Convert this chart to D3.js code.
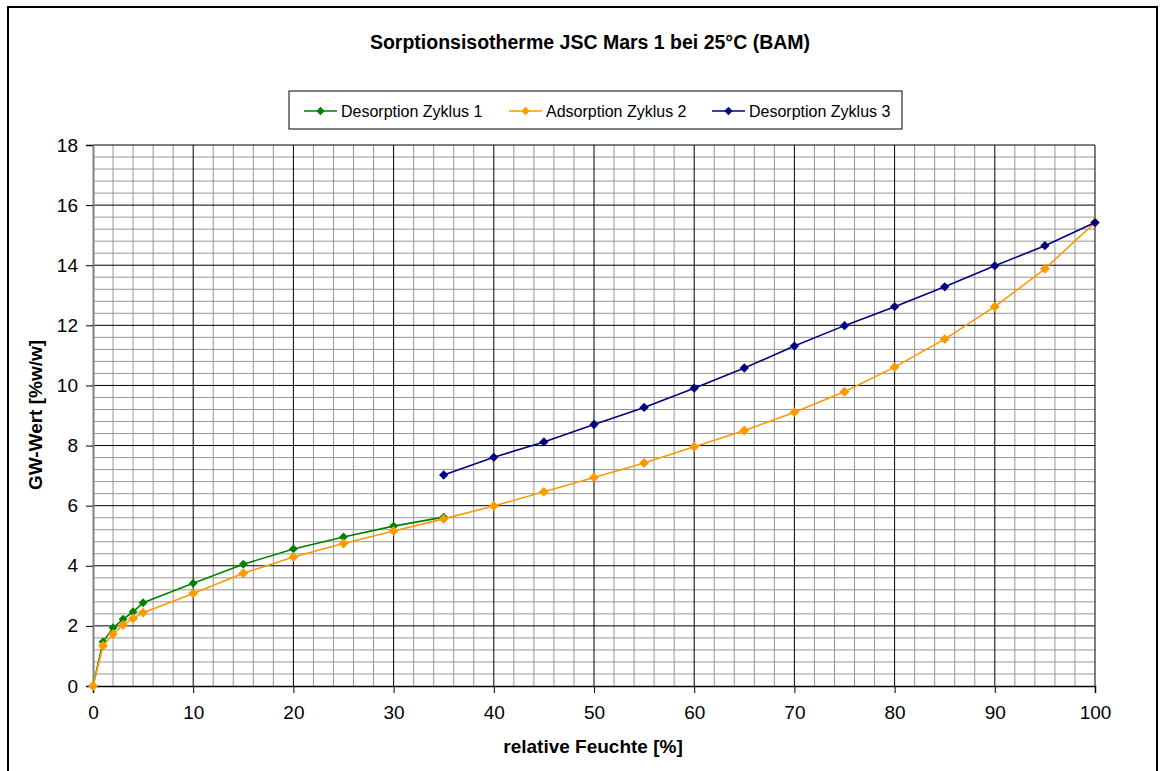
<!DOCTYPE html>
<html>
<head>
    <meta charset="utf-8">
    <title>Sorptionsisotherme JSC Mars 1</title>
    <script src="https://cdn.jsdelivr.net/npm/d3@7"></script>
    <style>
        body { margin: 0; background: #fff; }
        text { font-family: "Liberation Sans", Arial, sans-serif; }
    </style>
</head>
<body>
<div id="chart"></div>
<script>
    // data
    const rhDes1 = [0, 1, 2, 3, 4, 5, 10, 15, 20, 25, 30, 35];
    const gwDes1 = [0, 1.47, 1.94, 2.22, 2.47, 2.77, 3.42, 4.05, 4.56, 4.96, 5.32, 5.62];

    const rhAds2 = [0, 1, 2, 3, 4, 5, 10, 15, 20, 25, 30, 35, 40, 45, 50, 55, 60, 65, 70, 75, 80, 85, 90, 95, 100];
    const gwAds2 = [0, 1.34, 1.73, 2.03, 2.25, 2.44, 3.08, 3.75, 4.29, 4.74, 5.16, 5.56, 5.99, 6.46, 6.94, 7.42,
                    7.96, 8.50, 9.11, 9.79, 10.61, 11.54, 12.62, 13.88, 15.42];

    const rhDes3 = [35, 40, 45, 50, 55, 60, 65, 70, 75, 80, 85, 90, 95, 100];
    const gwDes3 = [7.02, 7.61, 8.12, 8.70, 9.27, 9.91, 10.58, 11.31, 11.99, 12.62, 13.28, 13.98, 14.65, 15.42];

    const seriesNames = ["Desorption Zyklus 1", "Adsorption Zyklus 2", "Desorption Zyklus 3"];
    const seriesColors = ["#008000", "#ff9900", "#000080"];
    const xTicks = d3.range(0, 101, 10);
    const yTicks = d3.range(0, 19, 2);

    const width = 1163, height = 771;
    const plot = {left: 93, right: 1095, top: 145, bottom: 686};

    const svg = d3.select("#chart").append("svg")
        .attr("width", width)
        .attr("height", height);

    // outer chart frame
    svg.append("rect")
        .attr("x", 8).attr("y", 7)
        .attr("width", 1149).attr("height", 800)
        .attr("fill", "none")
        .attr("stroke", "#000")
        .attr("stroke-width", 2);

    const x = d3.scaleLinear().domain([0, 100]).range([plot.left, plot.right]);
    const y = d3.scaleLinear().domain([0, 18]).range([plot.bottom, plot.top]);

    const grid = svg.append("g");

    // minor grid
    grid.selectAll(".vmin")
        .data(d3.range(0, 101, 2).filter(v => v % 10 !== 0))
        .enter().append("line")
        .attr("x1", d => x(d)).attr("x2", d => x(d))
        .attr("y1", plot.top).attr("y2", plot.bottom)
        .attr("stroke", "#969696").attr("stroke-width", 1);

    grid.selectAll(".hmin")
        .data(d3.range(0, 46).map(i => i * 0.4).filter((v, i) => i % 5 !== 0))
        .enter().append("line")
        .attr("x1", plot.left).attr("x2", plot.right)
        .attr("y1", d => y(d)).attr("y2", d => y(d))
        .attr("stroke", "#969696").attr("stroke-width", 1);

    // major grid
    grid.selectAll(".vmaj")
        .data(xTicks.slice(1))
        .enter().append("line")
        .attr("x1", d => x(d)).attr("x2", d => x(d))
        .attr("y1", plot.top).attr("y2", plot.bottom)
        .attr("stroke", "#000").attr("stroke-width", 1);

    grid.selectAll(".hmaj")
        .data(yTicks.slice(1))
        .enter().append("line")
        .attr("x1", plot.left).attr("x2", plot.right)
        .attr("y1", d => y(d)).attr("y2", d => y(d))
        .attr("stroke", "#000").attr("stroke-width", 1);

    // axes
    const xAxis = svg.append("g")
        .attr("transform", `translate(0,${plot.bottom})`)
        .call(d3.axisBottom(x).tickValues(xTicks).tickSize(7).tickPadding(13));
    xAxis.select(".domain").attr("stroke", "#000").attr("stroke-width", 1.5);
    xAxis.selectAll("text").attr("font-size", 19).attr("fill", "#000");

    const yAxis = svg.append("g")
        .attr("transform", `translate(${plot.left},0)`)
        .call(d3.axisLeft(y).tickValues(yTicks).tickSize(7).tickPadding(8));
    yAxis.select(".domain").attr("stroke", "#808080").attr("stroke-width", 2);
    yAxis.selectAll(".tick line").attr("stroke", "#000");
    yAxis.selectAll("text").attr("font-size", 19).attr("fill", "#000");

    // series
    const series = [
        {xs: rhDes1, ys: gwDes1, size: 50},
        {xs: rhAds2, ys: gwAds2, size: 62},
        {xs: rhDes3, ys: gwDes3, size: 55}
    ].map((s, i) => ({
        name: seriesNames[i],
        color: seriesColors[i],
        size: s.size,
        points: s.xs.map((v, j) => [v, s.ys[j]])
    }));

    const line = d3.line().x(d => x(d[0])).y(d => y(d[1]));

    series.forEach(s => {
        const g = svg.append("g");
        g.append("path")
            .attr("d", line(s.points))
            .attr("fill", "none")
            .attr("stroke", s.color)
            .attr("stroke-width", 1.6);
        g.selectAll("path.pt")
            .data(s.points)
            .enter().append("path")
            .attr("class", "pt")
            .attr("d", d3.symbol().type(d3.symbolDiamond2).size(s.size))
            .attr("transform", d => `translate(${x(d[0])},${y(d[1])})`)
            .attr("fill", s.color);
    });

    // title and axis titles
    svg.append("text")
        .attr("x", 590).attr("y", 48.5)
        .attr("text-anchor", "middle")
        .attr("font-size", 19.5).attr("font-weight", "bold")
        .text("Sorptionsisotherme JSC Mars 1 bei 25°C (BAM)");

    svg.append("text")
        .attr("x", 593).attr("y", 753)
        .attr("text-anchor", "middle")
        .attr("font-size", 19).attr("font-weight", "bold")
        .text("relative Feuchte [%]");

    svg.append("text")
        .attr("transform", "translate(42,415) rotate(-90)")
        .attr("text-anchor", "middle")
        .attr("font-size", 19).attr("font-weight", "bold")
        .text("GW-Wert [%w/w]");

    // legend
    const legend = svg.append("g");
    legend.append("rect")
        .attr("x", 289).attr("y", 91)
        .attr("width", 613).attr("height", 38)
        .attr("fill", "#fff")
        .attr("stroke", "#000").attr("stroke-width", 1);

    const legendX = [304, 509, 712];
    const entries = legend.selectAll(".entry")
        .data(series)
        .enter().append("g")
        .attr("transform", (d, i) => `translate(${legendX[i]},111)`);
    entries.append("line")
        .attr("x1", 0).attr("x2", 33)
        .attr("stroke", d => d.color).attr("stroke-width", 1.6);
    entries.append("path")
        .attr("d", d3.symbol().type(d3.symbolDiamond2).size(45))
        .attr("transform", "translate(16.5,0)")
        .attr("fill", d => d.color);
    entries.append("text")
        .attr("x", 37).attr("dy", "0.35em")
        .attr("font-size", 16)
        .text(d => d.name);
</script>
</body>
</html>
